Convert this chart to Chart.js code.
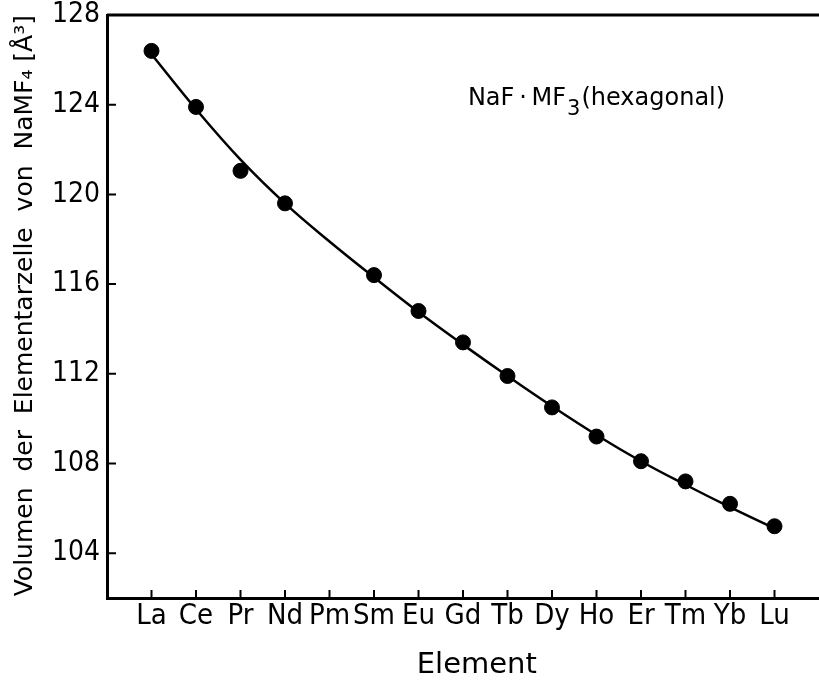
<!DOCTYPE html>
<html>
<head>
<meta charset="utf-8">
<script src="https://cdn.jsdelivr.net/npm/chart.js@4/dist/chart.umd.min.js"></script>
<style>
    html, body { margin: 0; padding: 0; background: #fff; }
    #contenitore { width: 819px; height: 681px; }
</style>
</head>
<body>
<div id="contenitore"><canvas id="grafico"></canvas></div>
<script>
// dati
var elementi = ['La', 'Ce', 'Pr', 'Nd', 'Pm', 'Sm', 'Eu', 'Gd', 'Tb', 'Dy', 'Ho', 'Er', 'Tm', 'Yb', 'Lu'];
var volumi = [126.4, 123.9, 121.05, 119.6, null, 116.4, 114.8, 113.4, 111.9, 110.5, 109.2, 108.1, 107.2, 106.2, 105.2];
var curva = [126.25, 123.8, 121.55, 119.6, 117.9, 116.3, 114.75, 113.3, 111.9, 110.55, 109.27, 108.1, 107.05, 106.05, 105.1];
var tickVolume = [104, 108, 112, 116, 120, 124, 128];
var titoloY = 'Volumen  der  Elementarzelle  von  NaMF\u2084 [\u00C5\u00B3]';
var titoloX = '   Element';
var nota = ['NaF\u2009\u00B7\u2009MF', '3', '(hexagonal)'];

var fontStretto = "'Liberation Sans Narrow', 'DejaVu Sans Condensed', sans-serif";
var fontNormale = "'DejaVu Sans', sans-serif";

function punti(valori) {
    var out = [];
    for (var i = 0; i < valori.length; i++) {
        if (valori[i] !== null) out.push({ x: i, y: valori[i] });
    }
    return out;
}

// tacche verso l'interno, linea superiore e nota
var decorazioni = {
    id: 'decorazioni',
    afterDraw: function (chart) {
        var ctx = chart.ctx;
        var area = chart.chartArea;
        var sx = chart.scales.x;
        var sy = chart.scales.y;
        ctx.save();
        ctx.strokeStyle = '#000';
        ctx.lineWidth = 2;
        ctx.beginPath();
        sy.ticks.forEach(function (t) {
            var py = sy.getPixelForValue(t.value);
            ctx.moveTo(area.left, py);
            ctx.lineTo(area.left + 9, py);
        });
        sx.ticks.forEach(function (t) {
            var px = sx.getPixelForValue(t.value);
            ctx.moveTo(px, area.bottom);
            ctx.lineTo(px, area.bottom - 8);
        });
        ctx.stroke();

        ctx.lineWidth = 3;
        ctx.beginPath();
        ctx.moveTo(area.left, area.top);
        ctx.lineTo(area.right, area.top);
        ctx.stroke();

        // NaF·MF3(hexagonal)
        var x = sx.getPixelForValue(7.11);
        var y = sy.getPixelForValue(124.0);
        ctx.fillStyle = '#000';
        ctx.textBaseline = 'alphabetic';
        ctx.textAlign = 'left';
        ctx.font = '24px ' + fontNormale;
        ctx.fillText(nota[0], x, y);
        x += ctx.measureText(nota[0]).width + 1;
        ctx.font = '21px ' + fontNormale;
        ctx.fillText(nota[1], x, y + 10);
        x += ctx.measureText(nota[1]).width + 1;
        ctx.font = '24px ' + fontNormale;
        ctx.fillText(nota[2], x, y);
        ctx.restore();
    }
};

var ctx = document.getElementById('grafico');
var chart = new Chart(ctx, {
    type: 'scatter',
    data: {
        datasets: [{
            label: 'curva',
            data: punti(curva),
            showLine: true,
            borderColor: '#000',
            borderWidth: 2.5,
            tension: 0.4,
            pointRadius: 0,
            order: 2
        },
        {
            label: 'volumi',
            data: punti(volumi),
            showLine: false,
            backgroundColor: '#000',
            borderColor: '#000',
            pointRadius: 7.5,
            order: 1
        }]
    },
    options: {
        responsive: true,
        maintainAspectRatio: false,
        animation: false,
        events: [],
        layout: { autoPadding: false, padding: { top: 15, right: 0, bottom: 0, left: 0 } },
        plugins: {
            legend: { display: false },
            tooltip: { enabled: false }
        },
        scales: {
            x: {
                type: 'linear',
                min: -1,
                max: 15,
                grid: { display: false, drawTicks: false },
                border: { display: true, color: '#000', width: 3 },
                afterBuildTicks: function (scale) {
                    scale.ticks = elementi.map(function (e, i) { return { value: i }; });
                },
                afterFit: function (scale) {
                    scale.height = 83;
                    scale.paddingLeft = 0;
                    scale.paddingRight = 0;
                },
                ticks: {
                    color: '#000',
                    padding: 1,
                    maxRotation: 0,
                    autoSkip: false,
                    font: { family: fontStretto, size: 29 },
                    callback: function (value) { return elementi[value] || ''; }
                },
                title: {
                    display: true,
                    text: titoloX,
                    color: '#000',
                    font: { family: fontNormale, size: 29 },
                    padding: { top: 0, bottom: -2 }
                }
            },
            y: {
                min: 102,
                max: 128,
                grid: { display: false, drawTicks: false },
                border: { display: true, color: '#000', width: 3 },
                afterBuildTicks: function (scale) {
                    scale.ticks = tickVolume.map(function (v) { return { value: v }; });
                },
                afterFit: function (scale) {
                    scale.width = 107;
                    scale.paddingTop = 0;
                    scale.paddingBottom = 0;
                },
                ticks: {
                    color: '#000',
                    padding: 7,
                    font: { family: fontStretto, size: 28 }
                },
                title: {
                    display: true,
                    text: titoloY,
                    align: 'end',
                    color: '#000',
                    font: { family: fontNormale, size: 25 },
                    padding: { top: 10, bottom: 0 }
                }
            }
        }
    },
    plugins: [decorazioni]
});
</script>
</body>
</html>
